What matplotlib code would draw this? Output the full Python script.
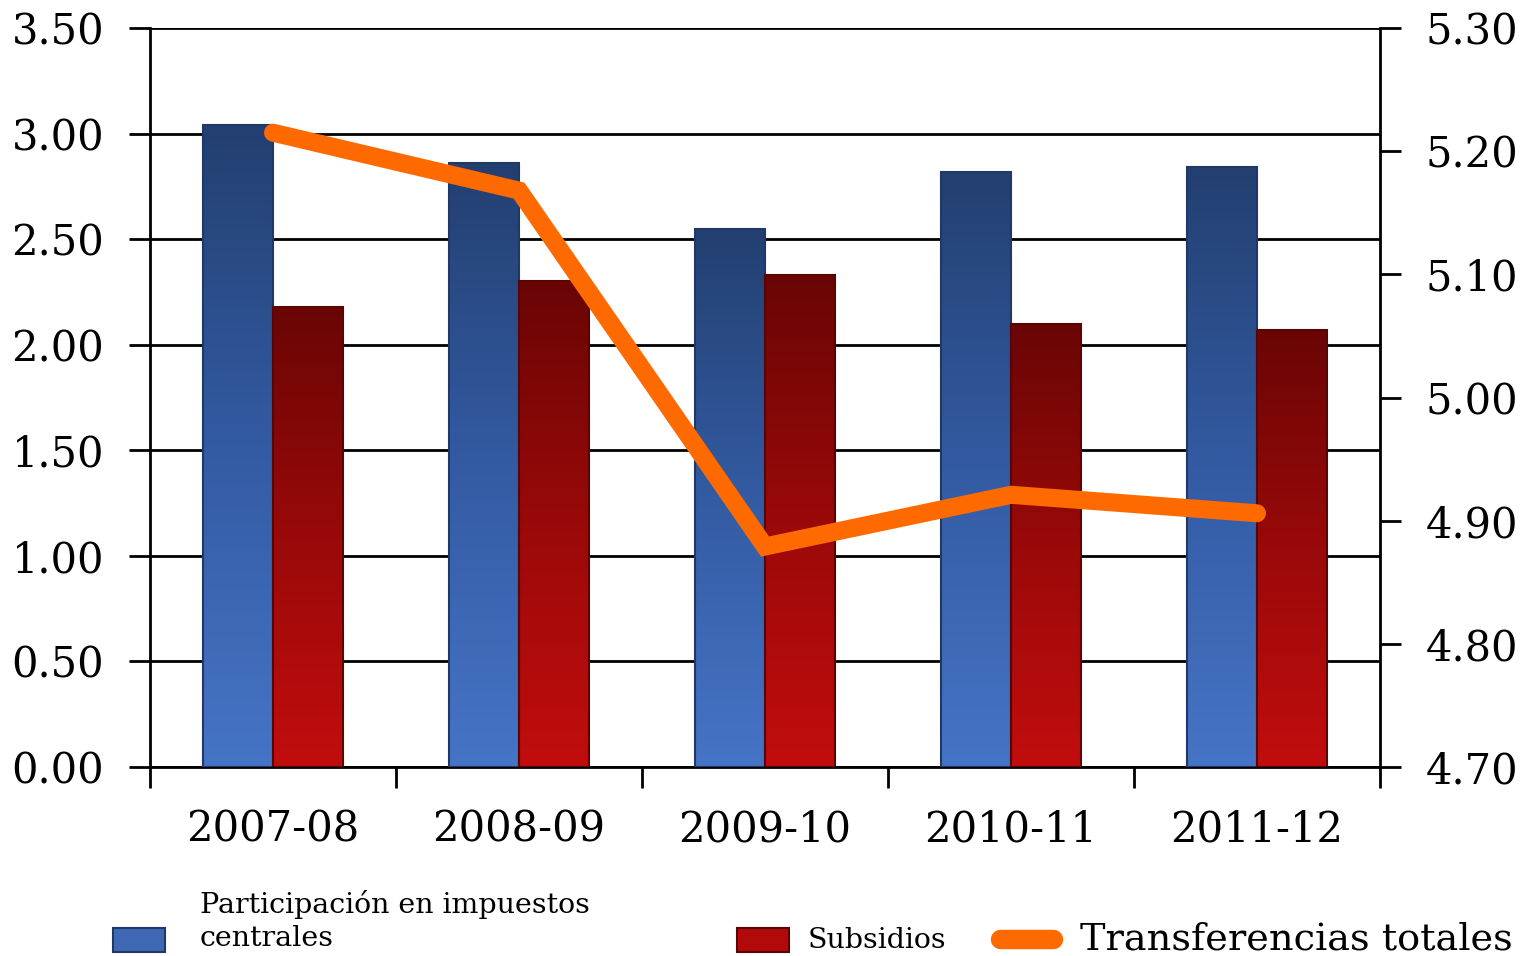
import numpy as np
import matplotlib.pyplot as plt
from matplotlib.colors import LinearSegmentedColormap
from matplotlib.patches import Rectangle
from matplotlib.lines import Line2D

years = ['2007-08', '2008-09', '2009-10', '2010-11', '2011-12']
participacion = [3.04, 2.86, 2.55, 2.82, 2.84]
subsidios = [2.18, 2.30, 2.33, 2.10, 2.07]
transferencias = [5.215, 5.168, 4.879, 4.921, 4.906]

left_ticks = [0.0, 0.5, 1.0, 1.5, 2.0, 2.5, 3.0, 3.5]
right_ticks = [4.7, 4.8, 4.9, 5.0, 5.1, 5.2, 5.3]

plt.rcParams['font.family'] = ['DejaVu Serif']

blue_cmap = LinearSegmentedColormap.from_list('b', ['#4674c6', '#335ba3', '#233f70'])
red_cmap = LinearSegmentedColormap.from_list('r', ['#c20d0d', '#9a0909', '#6a0505'])


def gradient_bars(ax, bars, cmap, edge):
    """Fill each bar with a vertical gradient clipped to the bar."""
    grad = np.linspace(0, 1, 256).reshape(-1, 1)
    for b in bars:
        b.set_facecolor('none')
        b.set_edgecolor(edge)
        b.set_linewidth(1.5)
        x0, y0, w, h = b.get_x(), b.get_y(), b.get_width(), b.get_height()
        im = ax.imshow(grad, cmap=cmap, origin='lower', aspect='auto',
                       extent=(x0, x0 + w, y0, y0 + h), zorder=2)
        im.set_clip_path(b)


fig = plt.figure(figsize=(15.23, 9.56), dpi=100)
ax = fig.add_axes([0.0985, 0.1977, 0.8076, 0.773])

x = np.arange(len(years))
w = 0.285
b1 = ax.bar(x - w / 2, participacion, w, zorder=3)
b2 = ax.bar(x + w / 2, subsidios, w, zorder=3)
gradient_bars(ax, b1, blue_cmap, '#1f3865')
gradient_bars(ax, b2, red_cmap, '#5a0404')

ax.set_xlim(-0.5, len(years) - 0.5)
ax.set_ylim(0, 3.5)
ax.set_yticks(left_ticks)
ax.set_yticklabels([f'{v:.2f}' for v in left_ticks], fontsize=30)
ax.set_xticks(x)
ax.set_xticklabels(years, fontsize=30)
ax.set_xticks(np.arange(len(years) + 1) - 0.5, minor=True)
ax.tick_params(axis='x', which='major', length=0, pad=30)
ax.tick_params(axis='x', which='minor', length=15, width=2, direction='out')
ax.tick_params(axis='y', length=15, width=2, direction='out', pad=18)
ax.yaxis.grid(True, color='black', linewidth=2, zorder=1)
ax.set_axisbelow(True)
for s in ['top', 'right']:
    ax.spines[s].set_visible(False)
for s in ['left', 'bottom']:
    ax.spines[s].set_linewidth(2)

ax2 = ax.twinx()
ax2.plot(x, transferencias, color='#ff6a00', linewidth=13,
         solid_capstyle='round', solid_joinstyle='miter', zorder=5)
ax2.set_ylim(4.7, 5.3)
ax2.set_yticks(right_ticks)
ax2.set_yticklabels([f'{v:.2f}' for v in right_ticks], fontsize=30)
ax2.tick_params(axis='y', length=15, width=2, direction='out', pad=18)
for s in ['top', 'left', 'bottom']:
    ax2.spines[s].set_visible(False)
ax2.spines['right'].set_linewidth(2)

# legend drawn along the bottom edge, partly cut off like the original
fig.patches.append(Rectangle((113 / 1523, 4 / 956), 52 / 1523, 24 / 956,
                             transform=fig.transFigure, facecolor='#3f68b4',
                             edgecolor='#1f3865', linewidth=1.5))
fig.text(200 / 1523, 4 / 956, 'Participación en impuestos\ncentrales',
         fontsize=20.5, va='bottom', ha='left', linespacing=1.3)
fig.patches.append(Rectangle((737 / 1523, 4 / 956), 52 / 1523, 24 / 956,
                             transform=fig.transFigure, facecolor='#b20a0a',
                             edgecolor='#5a0404', linewidth=1.5))
fig.text(808 / 1523, 2 / 956, 'Subsidios', fontsize=20.5, va='bottom', ha='left')
fig.lines.append(Line2D([1000 / 1523, 1053 / 1523], [17 / 956, 17 / 956],
                        transform=fig.transFigure, color='#ff6a00',
                        linewidth=14, solid_capstyle='round'))
fig.text(1080 / 1523, -2 / 956, 'Transferencias totales', fontsize=27.5,
         va='bottom', ha='left')

fig.savefig('out.png', dpi=100)
